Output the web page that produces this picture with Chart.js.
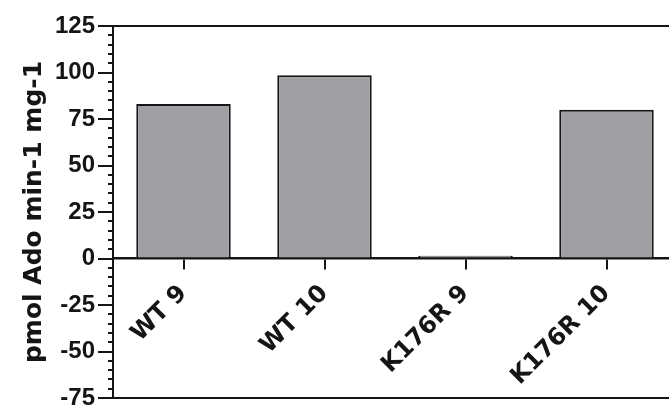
<!DOCTYPE html>
<html>
<head>
<meta charset="utf-8">
<script src="https://cdn.jsdelivr.net/npm/chart.js@4"></script>
<style>
  html, body { margin: 0; padding: 0; background: #fff; overflow: hidden; width: 669px; height: 405px; }
  #wrap { position: absolute; left: 0; top: 0; width: 680px; height: 405px; }
</style>
</head>
<body>
<div id="wrap"><canvas id="chart" width="680" height="405"></canvas></div>
<script>
// Enzyme activity per construct
const categories = ['WT 9', 'WT 10', 'K176R 9', 'K176R 10'];
const activity = [83, 98.5, 1.5, 80];

// Labelled y ticks; unlabelled minor ticks every 5 units in between
const yTicks = [-75, -50, -25, 0, 25, 50, 75, 100, 125];
const yMinorStep = 5;

const ink = '#151515';

new Chart(document.getElementById('chart'), {
  type: 'bar',
  data: {
    labels: categories,
    datasets: [{
      data: activity,
      backgroundColor: '#a0a0a4',
      borderColor: ink,
      borderWidth: 2,
      barPercentage: 0.67,
      categoryPercentage: 1.0
    }]
  },
  options: {
    responsive: false,
    animation: false,
    devicePixelRatio: 1,
    layout: { padding: { top: 26, right: 3, bottom: 7, left: 0 } },
    plugins: { legend: { display: false }, tooltip: { enabled: false } },
    scales: {
      x: {
        type: 'category',
        position: { y: 0 },
        offset: true,
        grid: { display: true, offset: false, drawOnChartArea: false, drawTicks: true, tickLength: 10, color: ink, lineWidth: 2 },
        border: { display: true, color: ink, width: 2.5 },
        ticks: {
          color: ink,
          font: { family: "'DejaVu Sans', sans-serif", size: 24, weight: 'bold' },
          minRotation: 45,
          maxRotation: 45,
          padding: 11,
          autoSkip: false
        }
      },
      xTop: {
        axis: 'x', type: 'linear', position: 'top', display: true,
        grid: { display: false, drawTicks: false },
        ticks: { display: false },
        border: { display: true, color: ink, width: 2 },
        afterFit: s => { s.height = 0; }
      },
      xBottom: {
        axis: 'x', type: 'linear', position: 'bottom', display: true,
        grid: { display: false, drawTicks: false },
        ticks: { display: false },
        border: { display: true, color: ink, width: 2 },
        afterFit: s => { s.height = 0; }
      },
      y: {
        type: 'linear',
        position: 'left',
        min: yTicks[0],
        max: yTicks[yTicks.length - 1],
        grid: {
          drawOnChartArea: false,
          drawTicks: true,
          tickLength: 15,
          color: ink,
          lineWidth: 2,
          tickBorderDash: ctx => (ctx.tick && yTicks.includes(ctx.tick.value)) ? [] : [0, 10, 5, 0]
        },
        border: { display: true, color: ink, width: 2 },
        ticks: {
          stepSize: yMinorStep,
          maxTicksLimit: 100,
          autoSkip: false,
          padding: 3,
          color: ink,
          font: { family: "'Liberation Sans', Arial, sans-serif", size: 24, weight: 'bold' },
          callback: v => yTicks.includes(v) ? String(v) : ''
        },
        title: {
          display: true,
          text: 'pmol Ado min-1 mg-1',
          color: ink,
          font: { family: "'DejaVu Sans', sans-serif", size: 25, weight: 'bold' },
          padding: { top: 19, bottom: 0 }
        },
        afterFit: s => { s.width = 113; s.paddingTop = 0; s.paddingBottom = 0; }
      }
    }
  }
});
</script>
</body>
</html>
